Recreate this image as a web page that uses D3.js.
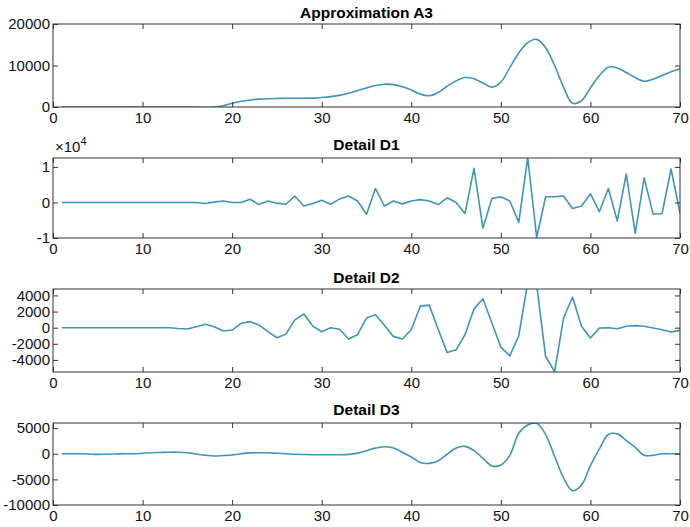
<!DOCTYPE html>
<html>
<head>
<meta charset="utf-8">
<script src="https://cdn.jsdelivr.net/npm/d3@7"></script>
<style>
  body { margin: 0; background: #fff; }
  svg { display: block; font-family: Arial, "Liberation Sans", sans-serif; }
  .tick-label { font-size: 15px; fill: #111; }
  .title { font-size: 15.5px; font-weight: bold; fill: #000; }
</style>
</head>
<body>
<div id="chart"></div>
<script>
// samples 1..70
const samples = d3.range(1, 71);

const a3 = [0, 0, 0, 0, 0, 0, 0, 0, 0, 0, 0, 0, 0, 0, 0, 0, -100, 0, 300, 900,
  1400, 1700, 1900, 2000, 2050, 2100, 2100, 2100, 2150, 2300,
  2500, 2800, 3300, 3900, 4600, 5200, 5500, 5400, 4900, 4100,
  3100, 2700, 3500, 5000, 6300, 7100, 6800, 5800, 4800, 6000,
  9500, 13000, 15500, 16300, 14300, 10000, 4800, 900, 1500, 4600,
  7600, 9600, 9400, 8300, 7100, 6200, 6700, 7600, 8500, 9200];

const d1 = [0, 0, 0, 0, 0, 0, 0, 0, 0, 0, 0, 0, 0, 0, 0, 0, -300, 100, 400, 0,
  0, 900, -600, 400, -200, -500, 1800, -1000, -300, 600,
  -500, 1000, 1800, 400, -3300, 3900, -1000, 400, -400, 400,
  800, 400, -600, 1300, 0, -3100, 9600, -7200, 1100, 1600,
  400, -5600, 12600, -9800, 1600, 1600, 1800, -1700, -1000, 2400,
  -2600, 3900, -5200, 8000, -8700, 6900, -3300, -3100, 9400, -3000];

const d2 = [0, 0, 0, 0, 0, 0, 0, 0, 0, 0, 0, 0, 0, -100, -170, 120, 420, 120, -420, -290,
  540, 750, 330, -500, -1250, -800, 960, 1700, 200, -500,
  0, -200, -1400, -870, 1200, 1600, 300, -1080, -1400, -250,
  2670, 2800, -200, -3080, -2750, -870, 2330, 3580, 580, -2420,
  -3500, -1000, 5600, 5300, -3580, -5460, 1200, 3800, 170, -1290,
  -40, 0, -125, 170, 250, 170, -40, -250, -540, -330];

const d3v = [0, 0, 0, -60, -125, -100, -60, 0, 0, 100, 200, 250, 300, 300, 190, -50, -300, -440, -350, -250,
  0, 180, 200, 190, 100, 0, -100, -150, -190, -190,
  -190, -190, -125, 125, 600, 1100, 1375, 1125, 300, -625,
  -1700, -1875, -1375, -100, 1125, 1440, 625, -900, -2375, -2190,
  -310, 4000, 5600, 5940, 3750, -500, -4690, -7190, -6125, -2300,
  940, 3750, 3875, 2600, 1250, -310, -310, 0, 0, 0];

const xTicks = [0, 10, 20, 30, 40, 50, 60, 70];
const a3Ticks = [0, 10000, 20000];
const d1Ticks = [-10000, 0, 10000];
const d2Ticks = [-4000, -2000, 0, 2000, 4000];
const d3Ticks = [-10000, -5000, 0, 5000];

const width = 690, height = 527;
const left = 53, right = 680;
const lineColor = "#3f94bd";
const axisColor = "#333";

const panels = [
  { title: "Approximation A3", values: a3, ticks: a3Ticks, domain: [0, 20000], top: 24, bottom: 107, titleY: 18, fmt: (d) => d, curve: d3.curveCatmullRom },
  { title: "Detail D1", values: d1, ticks: d1Ticks, domain: [-10000, 12500], top: 158, bottom: 238, titleY: 150, fmt: (d) => d / 10000, exp: true, curve: d3.curveLinear },
  { title: "Detail D2", values: d2, ticks: d2Ticks, domain: [-5500, 4800], top: 289, bottom: 372, titleY: 283, fmt: (d) => d, curve: d3.curveLinear },
  { title: "Detail D3", values: d3v, ticks: d3Ticks, domain: [-10000, 6000], top: 423, bottom: 505, titleY: 415, fmt: (d) => d, curve: d3.curveCatmullRom }
];

const svg = d3.select("#chart").append("svg")
  .attr("width", width)
  .attr("height", height);

svg.append("rect").attr("width", width).attr("height", height).attr("fill", "#fff");

const x = d3.scaleLinear().domain([0, 70]).range([left, right]);

panels.forEach((p, i) => {
  const y = d3.scaleLinear().domain(p.domain).range([p.bottom, p.top]);
  const g = svg.append("g");

  // clip to the axes box
  svg.append("clipPath").attr("id", "clip" + i)
    .append("rect")
    .attr("x", left).attr("y", p.top)
    .attr("width", right - left).attr("height", p.bottom - p.top);

  // line
  const line = d3.line()
    .x((d, j) => x(samples[j]))
    .y((d) => y(d))
    .curve(p.curve);

  g.append("path")
    .datum(p.values)
    .attr("clip-path", `url(#clip${i})`)
    .attr("fill", "none")
    .attr("stroke", lineColor)
    .attr("stroke-width", 1.6)
    .attr("stroke-linejoin", "round")
    .attr("d", line);

  // ticks inside, all four sides
  const tl = 5;
  g.append("g").attr("transform", `translate(0,${p.bottom})`)
    .call(d3.axisBottom(x).tickValues(xTicks).tickSize(-tl).tickPadding(3).tickFormat(d3.format("d")))
    .call((s) => s.select(".domain").remove())
    .call((s) => s.selectAll("line").attr("stroke", axisColor))
    .call((s) => s.selectAll("text").attr("class", "tick-label").attr("dy", "0.85em").attr("font-size", null).attr("font-family", null));

  g.append("g").attr("transform", `translate(0,${p.top})`)
    .call(d3.axisTop(x).tickValues(xTicks).tickSize(-tl).tickFormat(""))
    .call((s) => s.select(".domain").remove())
    .call((s) => s.selectAll("line").attr("stroke", axisColor));

  g.append("g").attr("transform", `translate(${left},0)`)
    .call(d3.axisLeft(y).tickValues(p.ticks).tickSize(-tl).tickPadding(3).tickFormat(p.fmt))
    .call((s) => s.select(".domain").remove())
    .call((s) => s.selectAll("line").attr("stroke", axisColor))
    .call((s) => s.selectAll("text").attr("class", "tick-label").attr("font-size", null).attr("font-family", null));

  g.append("g").attr("transform", `translate(${right},0)`)
    .call(d3.axisRight(y).tickValues(p.ticks).tickSize(-tl).tickFormat(""))
    .call((s) => s.select(".domain").remove())
    .call((s) => s.selectAll("line").attr("stroke", axisColor));

  // box
  g.append("rect")
    .attr("x", left).attr("y", p.top)
    .attr("width", right - left).attr("height", p.bottom - p.top)
    .attr("fill", "none")
    .attr("stroke", axisColor)
    .attr("stroke-width", 1);

  // title
  svg.append("text")
    .attr("class", "title")
    .attr("x", (left + right) / 2)
    .attr("y", p.titleY)
    .attr("text-anchor", "middle")
    .text(p.title);

  // exponent label
  if (p.exp) {
    const t = svg.append("text").attr("class", "tick-label")
      .attr("x", left + 2).attr("y", p.top - 6);
    t.append("tspan").text("×10");
    t.append("tspan").attr("dy", -7).attr("font-size", 11).text("4");
  }
});
</script>
</body>
</html>
